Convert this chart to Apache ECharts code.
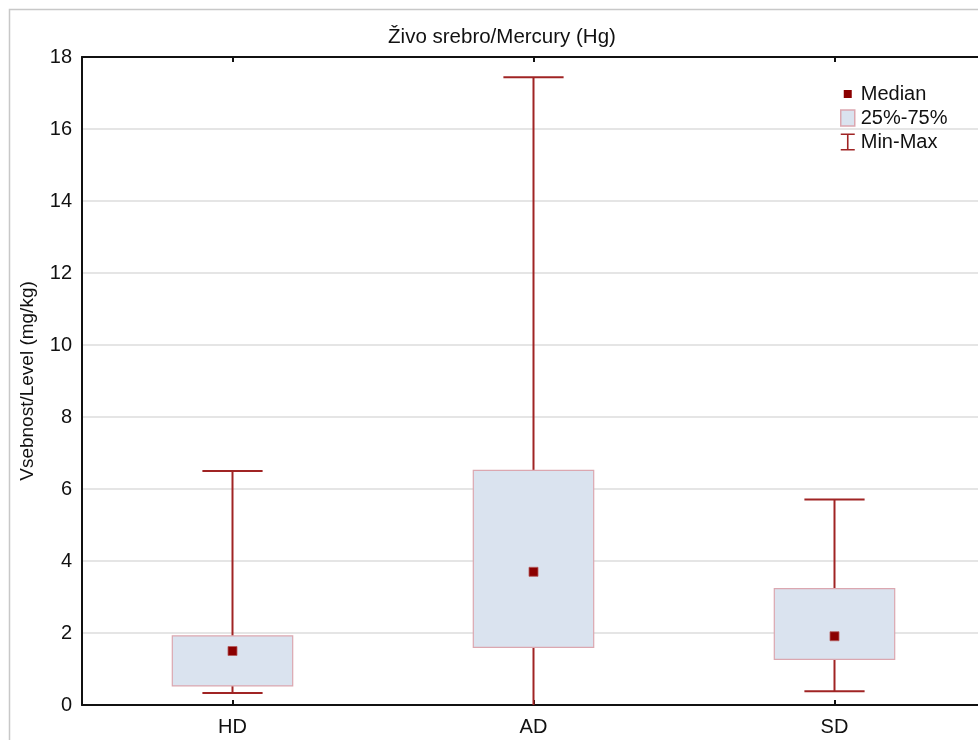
<!DOCTYPE html>
<html>
<head>
<meta charset="utf-8">
<script src="https://cdn.jsdelivr.net/npm/echarts@6/dist/echarts.min.js"></script>
<style>
html,body{margin:0;padding:0;background:#fff;overflow:hidden;}
#chart{width:990px;height:740px;}
</style>
</head>
<body>
<div id="chart"></div>
<script>
const categories = ['HD', 'AD', 'SD'];
const minVals = [0.33, 0.0, 0.38];
const q1Vals = [0.53, 1.60, 1.27];
const medianVals = [1.50, 3.70, 1.91];
const q3Vals = [1.92, 6.52, 3.23];
const maxVals = [6.50, 17.44, 5.71];
const yTicks = [0, 2, 4, 6, 8, 10, 12, 14, 16, 18];

const FONT = '"Liberation Sans", Arial, sans-serif';
const WHISKER = '#a02424';
const BOX_FILL = '#dae3ef';
const BOX_BORDER = '#dba7b0';
const MED = '#8b0000';

const boxData = categories.map((c, i) => [i, q1Vals[i], q3Vals[i]]);
const whiskerData = categories.map((c, i) => [i, minVals[i], maxVals[i], q1Vals[i], q3Vals[i]]);
const medianData = categories.map((c, i) => [i, medianVals[i]]);

const chart = echarts.init(document.getElementById('chart'));
chart.setOption({
  animation: false,
  backgroundColor: '#fff',
  graphic: [{
    type: 'rect', silent: true, z: -10,
    shape: { x: 9.5, y: 9.5, width: 1100, height: 900 },
    style: { fill: 'none', stroke: '#c8c8c8', lineWidth: 1.5 }
  }],
  title: {
    text: 'Živo srebro/Mercury (Hg)',
    left: 497, top: 22, textAlign: 'center',
    textStyle: { fontFamily: FONT, fontSize: 20.5, fontWeight: 'normal', color: '#111' }
  },
  legend: {
    orient: 'vertical', left: 834, top: 79,
    itemWidth: 16, itemHeight: 18, itemGap: 4,
    textStyle: { fontFamily: FONT, fontSize: 20, color: '#111' },
    data: [
      { name: 'Median', icon: 'path://M0,0M16,18M4,5h8v8h-8z', itemStyle: { color: MED, borderWidth: 0 } },
      { name: '25%-75%', icon: 'path://M0,0M16,18M1,1h14v16h-14z', itemStyle: { color: BOX_FILL, borderColor: BOX_BORDER, borderWidth: 1.5 } },
      { name: 'Min-Max', icon: 'path://M0,0M16,18M1,0.5h14v1.6h-6.2v13.8h6.2v1.6h-14v-1.6h6.2v-13.8h-6.2z', itemStyle: { color: WHISKER, borderWidth: 0 } }
    ]
  },
  grid: { left: 82, top: 57, width: 903, height: 648 },
  xAxis: [{
    type: 'category', data: categories, position: 'bottom', boundaryGap: true,
    axisLine: { show: true, lineStyle: { color: '#111', width: 2 } },
    axisTick: { show: true, alignWithLabel: true, inside: true, length: 5, lineStyle: { color: '#111', width: 2 } },
    axisLabel: { fontFamily: FONT, fontSize: 20, color: '#111', margin: 12 },
    splitLine: { show: false }
  }, {
    type: 'category', data: categories, position: 'top', boundaryGap: true,
    axisLine: { show: true, lineStyle: { color: '#111', width: 2 } },
    axisTick: { show: true, alignWithLabel: true, inside: true, length: 5, lineStyle: { color: '#111', width: 2 } },
    axisLabel: { show: false },
    splitLine: { show: false }
  }],
  yAxis: {
    type: 'value', min: 0, max: 18, interval: 2,
    name: 'Vsebnost/Level (mg/kg)', nameLocation: 'middle', nameRotate: 90, nameGap: 45,
    nameTextStyle: { fontFamily: FONT, fontSize: 19, color: '#111' },
    axisLine: { show: true, lineStyle: { color: '#111', width: 2 } },
    axisTick: { show: false },
    axisLabel: { fontFamily: FONT, fontSize: 20, color: '#111', margin: 10,
      formatter: v => yTicks.includes(v) ? String(v) : '' },
    splitLine: { show: true, lineStyle: { color: '#dcdcdc', width: 1.5 } }
  },
  series: [{
    name: 'Min-Max', type: 'custom', z: 2,
    data: whiskerData,
    renderItem: function (params, api) {
      const x = api.value(0);
      const pMin = api.coord([x, api.value(1)]);
      const pMax = api.coord([x, api.value(2)]);
      const pQ1 = api.coord([x, api.value(3)]);
      const pQ3 = api.coord([x, api.value(4)]);
      const band = api.size([1, 0])[0];
      const half = band * 0.1;
      const st = { stroke: WHISKER, lineWidth: 2, fill: 'none' };
      const children = [
        { type: 'line', shape: { x1: pMax[0], y1: pMax[1], x2: pQ3[0], y2: pQ3[1] }, style: st },
        { type: 'line', shape: { x1: pMax[0] - half, y1: pMax[1], x2: pMax[0] + half, y2: pMax[1] }, style: st },
        { type: 'line', shape: { x1: pQ1[0], y1: pQ1[1], x2: pMin[0], y2: pMin[1] }, style: st }
      ];
      if (api.value(1) > 0) {
        children.push({ type: 'line', shape: { x1: pMin[0] - half, y1: pMin[1], x2: pMin[0] + half, y2: pMin[1] }, style: st });
      }
      return { type: 'group', children: children };
    }
  }, {
    name: '25%-75%', type: 'custom', z: 3,
    data: boxData,
    renderItem: function (params, api) {
      const x = api.value(0);
      const pLo = api.coord([x, api.value(1)]);
      const pHi = api.coord([x, api.value(2)]);
      const band = api.size([1, 0])[0];
      const w = band * 0.4;
      return {
        type: 'rect',
        shape: { x: pLo[0] - w / 2, y: pHi[1], width: w, height: pLo[1] - pHi[1] },
        style: { fill: BOX_FILL, stroke: BOX_BORDER, lineWidth: 1.2 }
      };
    }
  }, {
    name: 'Median', type: 'scatter', z: 4,
    data: medianData,
    symbol: 'rect', symbolSize: 9,
    itemStyle: { color: MED, borderColor: '#b55a5a', borderWidth: 0.8, opacity: 1 }
  }]
});
</script>
</body>
</html>
